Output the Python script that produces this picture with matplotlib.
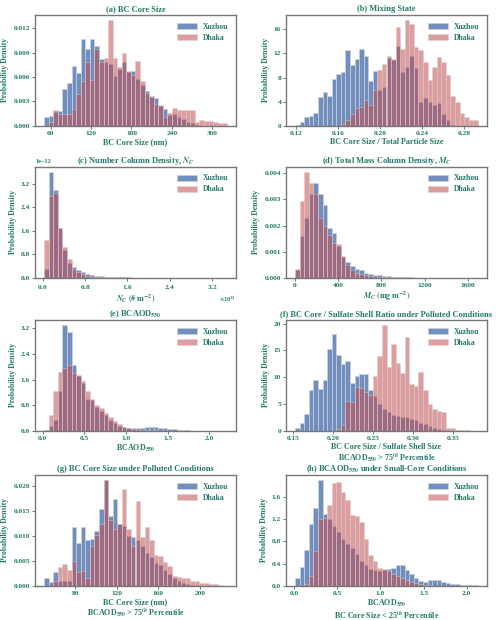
import numpy as np
import matplotlib
matplotlib.use("Agg")
import matplotlib.pyplot as plt
from matplotlib.ticker import MultipleLocator

## Datos (40 bins por panel)
# (a) BC core size (nm), densidad x1e-3
a_range = (50, 322)
a_xuzhou = [1.1, 1.2, 1.7, 1.8, 4.5, 5.3, 7.4, 6.5, 10.7, 9.4,
            10.7, 9.8, 8.2, 7.8, 7.6, 6.1, 7.0, 7.8, 6.6, 6.8,
            5.8, 5.0, 4.3, 3.7, 3.4, 2.5, 2.1, 1.3, 1.5, 1.1,
            0.8, 0.5, 0.3, 0.1, 0, 0, 0, 0, 0, 0]
a_dhaka = [0, 0.5, 1.9, 1.5, 1.5, 1.4, 2.1, 3.9, 5.5, 7.8,
           5.6, 9.5, 7.9, 8.4, 13.0, 8.4, 7.2, 9.0, 6.8, 6.3,
           8.0, 5.5, 4.0, 3.6, 2.7, 2.6, 1.1, 1.6, 2.2, 2.0,
           2.0, 2.0, 2.0, 0.5, 0.7, 0.6, 0.6, 0.5, 0.4, 0.3]

# (b) mixing state
b_range = (0.119, 0.293)
b_xuzhou = [0.2, 0.6, 1.4, 1.7, 2.2, 4.8, 5.6, 4.9, 7.7, 8.6,
            8.9, 12.6, 10.0, 11.0, 12.8, 11.6, 7.5, 9.1, 6.0, 6.4,
            11.2, 10.9, 13.3, 9.0, 9.8, 11.6, 9.5, 4.0, 4.6, 4.0,
            3.5, 3.8, 2.0, 0.9, 0.2, 0, 0, 0, 0, 0]
b_dhaka = [0, 0, 0, 0, 0, 0, 0, 0, 0, 0,
           0.3, 1.0, 1.9, 3.0, 3.2, 4.3, 3.4, 6.0, 9.2, 10.2,
           11.6, 11.1, 16.3, 12.7, 17.5, 16.9, 13.0, 12.5, 10.6, 7.6,
           9.8, 11.4, 10.5, 8.4, 5.0, 3.9, 2.2, 1.5, 0.9, 0.9]

# (c) N_C (x1e12 # m-2), densidad x1e-12
c_range = (0.0275, 3.477)
c_xuzhou = [0.3, 3.6, 3.0, 1.7, 0.95, 0.5, 0.35, 0.27, 0.18, 0.13,
            0.09, 0.06, 0.045, 0.035, 0.025, 0.02, 0.015, 0.012, 0.01, 0.008,
            0.006, 0.005, 0.004, 0.003, 0.003, 0.002, 0.002, 0.002, 0.001, 0.001,
            0.001, 0.001, 0.001, 0.001, 0, 0, 0, 0, 0, 0.001]
c_dhaka = [1.3, 2.8, 2.9, 1.7, 1.05, 0.65, 0.3, 0.2, 0.12, 0.07,
           0.04, 0.02, 0.012, 0.008, 0.005, 0.003, 0.002, 0.001, 0.001, 0,
           0, 0, 0, 0, 0, 0, 0, 0, 0, 0,
           0, 0, 0, 0, 0, 0, 0, 0, 0, 0]

# (d) M_C (mg m-2), densidad x1e-3
d_range = (1.5, 1691)
d_xuzhou = [0.3, 1.6, 2.3, 3.2, 3.62, 3.2, 2.8, 1.9, 1.7, 1.2,
            0.8, 0.6, 0.45, 0.35, 0.28, 0.2, 0.16, 0.12, 0.1, 0.08,
            0.06, 0.04, 0.03, 0.02, 0.015, 0.01, 0.008, 0.006, 0.005, 0.004,
            0.003, 0.002, 0.002, 0.001, 0.001, 0.001, 0.001, 0, 0, 0.001]
d_dhaka = [0.32, 2.95, 4.05, 3.62, 3.2, 2.3, 2.0, 1.65, 1.35, 1.3,
           0.85, 0.5, 0.3, 0.2, 0.15, 0.1, 0.07, 0.05, 0.03, 0.02,
           0.01, 0.005, 0.003, 0.002, 0.001, 0, 0, 0, 0, 0,
           0, 0, 0, 0, 0, 0, 0, 0, 0, 0]

# (e) BCAOD550
e_range = (0.0177, 2.21)
e_xuzhou = [0.02, 0.15, 0.33, 1.25, 3.3, 3.1, 2.05, 1.7, 1.5, 1.0,
            0.95, 0.75, 0.62, 0.5, 0.35, 0.25, 0.15, 0.12, 0.09, 0.08,
            0.09, 0.1, 0.12, 0.12, 0.11, 0.09, 0.08, 0.07, 0.06, 0.04,
            0.03, 0.02, 0.01, 0.01, 0.005, 0.005, 0, 0, 0, 0.005]
e_dhaka = [0.02, 0.5, 1.25, 1.85, 1.95, 2.05, 1.8, 1.75, 1.55, 1.25,
           1.0, 0.8, 0.72, 0.55, 0.42, 0.3, 0.2, 0.12, 0.08, 0.06,
           0.05, 0.04, 0.03, 0.02, 0.015, 0.01, 0.008, 0.005, 0.003, 0.002,
           0.001, 0, 0, 0, 0, 0, 0, 0, 0, 0]

# (f) core / shell ratio, condiciones contaminadas
f_range = (0.1523, 0.3812)
f_xuzhou = [0.5, 1.5, 3.1, 7.7, 9.4, 7.9, 9.5, 15.2, 18.0, 14.2,
            12.5, 13.0, 9.0, 10.3, 10.6, 10.6, 7.7, 6.5, 5.0, 4.0,
            3.6, 3.0, 2.8, 2.6, 2.5, 2.2, 2.0, 1.5, 1.2, 1.0,
            0.5, 0.3, 0.1, 0, 0, 0, 0, 0, 0, 0]
f_dhaka = [0, 0, 0, 0, 0, 0, 0, 0, 0, 0.3,
           1.1, 5.6, 5.4, 8.2, 8.0, 7.2, 6.6, 10.3, 14.0, 19.7,
           12.0, 16.2, 12.7, 10.8, 17.5, 8.7, 8.3, 11.0, 7.6, 5.0,
           4.0, 3.8, 3.6, 0.6, 0.5, 0.2, 0.2, 0.1, 0.05, 0]

# (g) BC core size, condiciones contaminadas, densidad x1e-3
g_range = (50, 226)
g_xuzhou = [1.6, 0.7, 2.8, 1.0, 0.9, 1.0, 11.9, 8.7, 11.9, 9.3,
            9.5, 11.0, 15.5, 21.2, 14.0, 17.4, 12.5, 12.0, 10.0, 9.8,
            9.2, 8.0, 6.6, 5.8, 4.5, 4.2, 3.2, 2.3, 1.5, 1.0,
            0.6, 0.3, 0.2, 0.1, 0, 0, 0, 0, 0, 0]
g_dhaka = [0, 0, 1.0, 3.7, 4.4, 3.2, 5.0, 2.8, 3.0, 1.5,
           8.0, 10.2, 12.5, 21.2, 13.2, 11.4, 12.5, 19.4, 11.4, 8.0,
           17.1, 9.8, 11.9, 9.3, 6.2, 6.0, 4.7, 4.0, 2.0, 1.7,
           1.6, 1.5, 1.0, 1.0, 0.6, 0.5, 0.3, 0.3, 0.1, 0]

# (h) BCAOD550, nucleos pequenos
h_range = (0.0095, 2.13)
h_xuzhou = [0.14, 0.34, 0.65, 1.12, 1.4, 1.9, 1.3, 1.2, 1.08, 0.97,
            0.85, 0.75, 0.68, 0.58, 0.45, 0.38, 0.30, 0.28, 0.26, 0.28,
            0.30, 0.32, 0.37, 0.38, 0.28, 0.22, 0.15, 0.08, 0.07, 0.10,
            0.10, 0.10, 0.07, 0.05, 0.04, 0.03, 0.02, 0.02, 0.01, 0.01]
h_dhaka = [0, 0, 0.03, 0.18, 0.62, 1.2, 1.22, 1.45, 1.85, 1.87,
           1.68, 1.55, 1.27, 1.25, 1.15, 0.85, 0.55, 0.45, 0.33, 0.30,
           0.26, 0.22, 0.18, 0.14, 0.10, 0.07, 0.05, 0.03, 0.02, 0.01,
           0, 0, 0, 0, 0, 0, 0, 0, 0, 0]

## Estilo
teal = '#227a68'
plt.rcParams['font.family'] = ['Liberation Serif', 'DejaVu Serif']
plt.rcParams['font.weight'] = 'bold'
plt.rcParams['axes.labelweight'] = 'bold'
plt.rcParams['axes.titleweight'] = 'bold'
plt.rcParams['mathtext.fontset'] = 'stix'

fig = plt.figure(figsize=(5, 6.2), dpi=100)
lefts = [0.07, 0.572]
bottoms = [0.797, 0.552, 0.305, 0.055]
w, h = 0.402, 0.179

# (titulo, xlabel, datos, escala x, escala y, paso x, paso y)
panels = [
    ("(a) BC Core Size", "BC Core Size (nm)", a_range, a_xuzhou, a_dhaka, 1, 1e-3, 60, 0.003),
    ("(b) Mixing State", "BC Core Size / Total Particle Size", b_range, b_xuzhou, b_dhaka, 1, 1, 0.04, 4),
    (r"(c) Number Column Density, $N_C$", r"$N_C\ (\#\ \mathrm{m}^{-2})$", c_range, c_xuzhou, c_dhaka, 1e12, 1e-12, 0.8e12, 0.8e-12),
    (r"(d) Total Mass Column Density, $M_C$", r"$M_C\ (\mathrm{mg\ m}^{-2})$", d_range, d_xuzhou, d_dhaka, 1, 1e-3, 400, 0.001),
    (r"(e) BCAOD$_{550}$", r"BCAOD$_{550}$", e_range, e_xuzhou, e_dhaka, 1, 1, 0.5, 0.8),
    ("(f) BC Core / Sulfate Shell Ratio under Polluted Conditions",
     "BC Core Size / Sulfate Shell Size\n" + r"BCAOD$_{550}$ > 75$^{th}$ Percentile",
     f_range, f_xuzhou, f_dhaka, 1, 1, 0.05, 5),
    ("(g) BC Core Size under Polluted Conditions",
     "BC Core Size (nm)\n" + r"BCAOD$_{550}$ > 75$^{th}$ Percentile",
     g_range, g_xuzhou, g_dhaka, 1, 1e-3, 40, 0.005),
    (r"(h) BCAOD$_{550}$ under Small-Core Conditions",
     r"BCAOD$_{550}$" + "\n" + r"BC Core Size < 25$^{th}$ Percentile",
     h_range, h_xuzhou, h_dhaka, 1, 1, 0.5, 0.4),
]

for i, (title, xlab, rng, xz, dk, sx, sy, stepx, stepy) in enumerate(panels):
    ax = fig.add_axes([lefts[i % 2], bottoms[i // 2], w, h])
    edges = np.linspace(rng[0], rng[1], len(xz) + 1) * sx
    centers = (edges[:-1] + edges[1:]) / 2
    ax.hist(centers, bins=edges, weights=np.array(xz) * sy, color='#4C72B0', alpha=0.8,
            edgecolor='lightgrey', linewidth=0.6, label='Xuzhou')
    ax.hist(centers, bins=edges, weights=np.array(dk) * sy, color='#C44E52', alpha=0.55,
            edgecolor='lightgrey', linewidth=0.6, label='Dhaka')
    ax.set_title(title, fontsize=6, color=teal, pad=3)
    ax.set_xlabel(xlab, fontsize=5.8, color=teal, labelpad=1.5, linespacing=1.05)
    ax.set_ylabel("Probability Density", fontsize=5.6, color=teal, labelpad=3)
    ax.xaxis.set_major_locator(MultipleLocator(stepx))
    ax.yaxis.set_major_locator(MultipleLocator(stepy))
    ax.tick_params(labelsize=5.3, colors=teal, length=2, width=0.6, pad=1.5)
    if i == 2:
        ax.ticklabel_format(axis='x', useMathText=True)
    ax.xaxis.get_offset_text().set_fontsize(4.5)
    ax.yaxis.get_offset_text().set_fontsize(4.5)
    for s in ax.spines.values():
        s.set_color('#777777')
        s.set_linewidth(1.0)
    leg = ax.legend(loc='upper right', frameon=False, fontsize=5.5, handlelength=2.6,
                    handleheight=0.9, borderaxespad=0.6, labelspacing=0.4)
    for t in leg.get_texts():
        t.set_color(teal)

fig.savefig('out.png', dpi=100)
